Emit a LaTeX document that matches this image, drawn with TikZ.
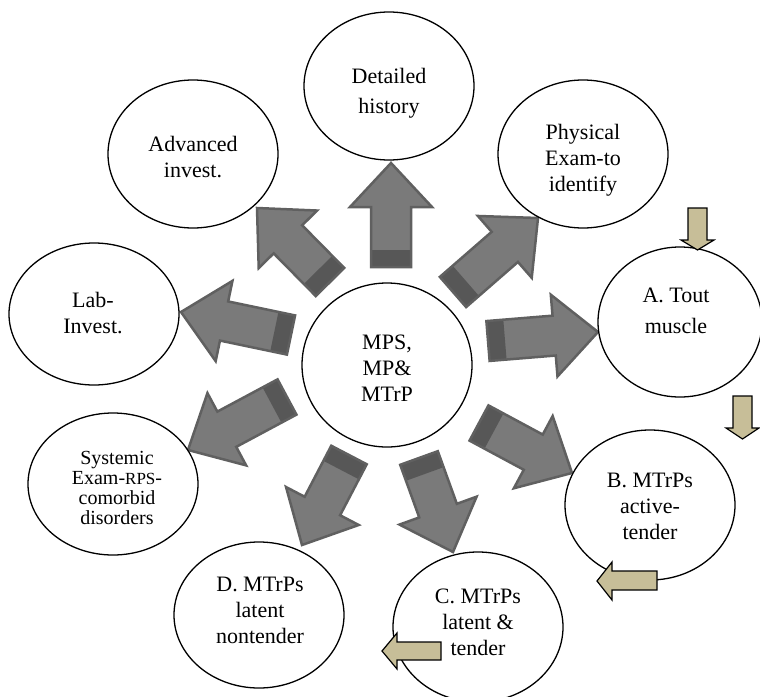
\documentclass[tikz,border=0pt]{standalone}
\usepackage{fontspec}
\setmainfont{Liberation Serif}
\usetikzlibrary{calc,shapes.geometric}
\definecolor{garrowfill}{HTML}{7A7A7A}
\definecolor{garrowline}{HTML}{606060}
\definecolor{garrowband}{HTML}{575757}
\definecolor{tanfill}{HTML}{C7BE98}
\tikzset{
  bubble/.style={draw=black, line width=1.3pt, fill=white, ellipse, minimum width=170pt, minimum height=148pt, inner sep=0pt},
  bubbletext/.style={align=center, font=\fontsize{22}{26}\selectfont, inner sep=0pt},
  garrow/.style={fill=garrowfill, draw=garrowline, line width=2.5pt, line join=miter},
  tanarrow/.style={fill=tanfill, draw=black, line width=1.2pt, line join=miter},
}
\newcommand{\grayarrow}[2]{%
  \coordinate (hb) at ($(#2)!44pt!(#1)$);
  \coordinate (tb) at ($(#1)!17pt!(#2)$);
  \fill[garrowfill] ($(#1)!20pt!90:(#2)$) -- ($(hb)!20pt!-90:(#1)$) -- ($(hb)!41pt!-90:(#1)$) -- (#2) -- ($(hb)!41pt!90:(#1)$) -- ($(hb)!20pt!90:(#1)$) -- ($(#1)!20pt!-90:(#2)$) -- cycle;
  \fill[garrowband] ($(#1)!20pt!90:(#2)$) -- ($(tb)!20pt!-90:(#1)$) -- ($(tb)!20pt!90:(#1)$) -- ($(#1)!20pt!-90:(#2)$) -- cycle;
  \draw[garrow, fill=none] ($(#1)!20pt!90:(#2)$) -- ($(hb)!20pt!-90:(#1)$) -- ($(hb)!41pt!-90:(#1)$) -- (#2) -- ($(hb)!41pt!90:(#1)$) -- ($(hb)!20pt!90:(#1)$) -- ($(#1)!20pt!-90:(#2)$) -- cycle;
}
\begin{document}
\begin{tikzpicture}[x=1pt, y=-1pt]
\useasboundingbox (0,0) rectangle (760,696);
% gray block arrows (tail, tip)
\coordinate (t1) at (391,267); \coordinate (h1) at (391,163);
\coordinate (t2) at (330,282); \coordinate (h2) at (257,208);
\coordinate (t3) at (291,335); \coordinate (h3) at (181,312);
\coordinate (t4) at (287,397); \coordinate (h4) at (188,450);
\coordinate (t5) at (349,455); \coordinate (h5) at (302,545);
\coordinate (t6) at (419,458); \coordinate (h6) at (453,552);
\coordinate (t7) at (479,423); \coordinate (h7) at (572,473);
\coordinate (t8) at (488,341); \coordinate (h8) at (598,332);
\coordinate (t9) at (453,292); \coordinate (h9) at (538,218);
\grayarrow{t1}{h1}
\grayarrow{t2}{h2}
\grayarrow{t3}{h3}
\grayarrow{t4}{h4}
\grayarrow{t5}{h5}
\grayarrow{t6}{h6}
\grayarrow{t7}{h7}
\grayarrow{t8}{h8}
\grayarrow{t9}{h9}
% ellipses
\node[bubble, minimum height=164pt] (center) at (387,365) {};
\node[bubble] (hist) at (389,86) {};
\node[bubble] (phys) at (583,154) {};
\node[bubble, minimum width=164pt, minimum height=150pt] (tout) at (680,322) {};
\node[bubble, minimum height=150pt] (act) at (650,505) {};
\node[bubble, minimum height=150pt] (lat) at (478,627) {};
\node[bubble, minimum height=146pt] (nont) at (259,615) {};
\node[bubble, minimum height=142pt] (sys) at (113,484) {};
\node[bubble, minimum height=142pt] (lab) at (94,314) {};
\node[bubble] (adv) at (193,154) {};
% texts
\node[bubbletext] (centertxt) at (387,368) {MPS,\\MP\&\\MTrP};
\node[bubbletext, font=\fontsize{22}{30}\selectfont] (histtxt) at (389,93) {Detailed\\history};
\node[bubbletext] (phystxt) at (583,160) {Physical\\Exam-to\\identify};
\node[bubbletext, font=\fontsize{22}{31}\selectfont] (touttxt) at (676,311) {A. Tout\\muscle};
\node[bubbletext] (acttxt) at (650,506) {B. MTrPs\\active-\\tender};
\node[bubbletext] (lattxt) at (478,622) {C. MTrPs\\latent \&\\tender};
\node[bubbletext] (nonttxt) at (260,610) {D. MTrPs\\latent\\nontender};
\node[bubbletext] (labtxt) at (93,313) {Lab-\\Invest.};
\node[bubbletext] (advtxt) at (193,157) {Advanced\\invest.};
\node[bubbletext, font=\fontsize{20}{20}\selectfont] (systxt) at (117,488) {Systemic\\Exam-{\fontsize{17}{20}\selectfont RPS}-\\comorbid\\disorders};
% tan arrows
\draw[tanarrow] (688,208) -- (707,208) -- (707,240) -- (714,240) -- (697.5,250) -- (681,240) -- (688,240) -- cycle;
\draw[tanarrow] (733,396) -- (752,396) -- (752,428) -- (759,428) -- (742.5,439) -- (726,428) -- (733,428) -- cycle;
\draw[tanarrow] (657,571) -- (657,590) -- (612,590) -- (612,600) -- (597,581) -- (612,562) -- (612,571) -- cycle;
\draw[tanarrow] (441,642) -- (441,660) -- (397,660) -- (397,669) -- (382,651) -- (397,633) -- (397,642) -- cycle;
\end{tikzpicture}
\end{document}
